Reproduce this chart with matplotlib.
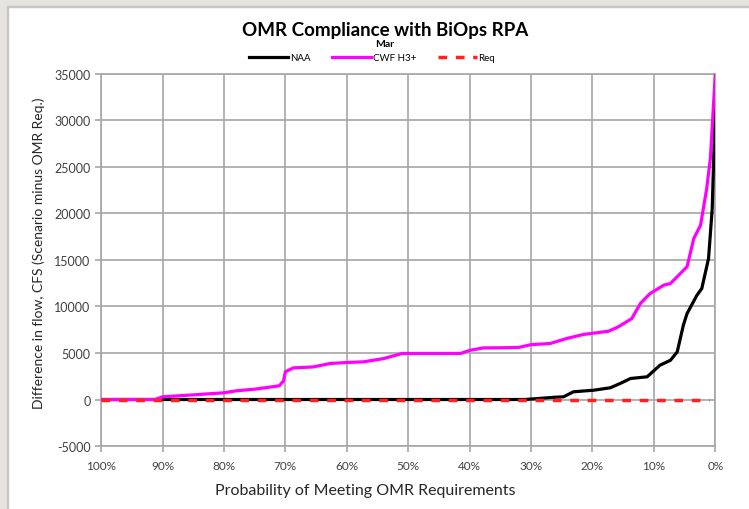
import matplotlib.pyplot as plt
from matplotlib.patches import Rectangle

# data (probability in %, difference in cfs)
naa_prob = [100, 31, 30, 28, 26, 24.7, 23.1, 19.8, 17.1, 15.5, 13.8, 11.1, 9, 7.3,
            6.2, 5.2, 4.6, 3, 2.2, 1.1, 0.5, 0]
naa_flow = [0, 0, 50, 150, 250, 290, 830, 1000, 1260, 1720, 2260, 2440, 3690, 4220,
            5120, 7990, 9240, 11200, 11930, 15160, 20530, 31800]

cwf_prob = [100, 91.2, 90, 85, 80, 78, 75, 71, 70.3, 70, 68.7, 65.5, 62.7, 60, 57.3,
            54, 51, 41.5, 39.9, 37.7, 35, 32, 30, 26.9, 24.2, 21.5, 17.4, 15.8, 13.6,
            12.2, 10.6, 8.4, 7.3, 4.6, 3.5, 2.4, 1.4, 0.8, 0]
cwf_flow = [0, 0, 290, 500, 720, 935, 1110, 1470, 2000, 2980, 3400, 3500, 3870, 3980,
            4050, 4400, 4950, 4950, 5300, 5550, 5560, 5600, 5900, 6020, 6560, 6990,
            7340, 7810, 8700, 10320, 11400, 12290, 12470, 14270, 17310, 18740, 22680,
            25900, 35000]

req_prob = [100, 1]
req_flow = [0, 0]

x_ticks = [100, 90, 80, 70, 60, 50, 40, 30, 20, 10, 0]
y_ticks = [-5000, 0, 5000, 10000, 15000, 20000, 25000, 30000, 35000]

plt.rcParams['font.family'] = ['Lato', 'DejaVu Sans']
plt.rcParams['axes.unicode_minus'] = False

fig = plt.figure(figsize=(7.49, 5.10), dpi=100)
ax = fig.add_axes([0.135, 0.1235, 0.82, 0.7295])

# grey frame of the slide at top and left
fig.patches.append(Rectangle((0, 1 - 7 / 510), 1, 7 / 510, transform=fig.transFigure,
                             color='#e6e4df', zorder=0))
fig.patches.append(Rectangle((0, 0), 7 / 749, 1, transform=fig.transFigure,
                             color='#e6e4df', zorder=0))
fig.patches.append(Rectangle((7 / 749, 0), 1.2 / 749, 1 - 7 / 510, transform=fig.transFigure,
                             color='#c8c6c0', zorder=0))
fig.patches.append(Rectangle((7 / 749, 1 - 8.2 / 510), 1, 1.2 / 510, transform=fig.transFigure,
                             color='#c8c6c0', zorder=0))

ax.plot(naa_prob, naa_flow, color='black', linewidth=2.3, label='NAA', zorder=3)
ax.plot(cwf_prob, cwf_flow, color='#ff00ff', linewidth=2.3, label='CWF H3+', zorder=4)
ax.plot(req_prob, req_flow, color='#ff2020', linewidth=2.5, linestyle=(0, (2.5, 2.5)),
        label='Req', zorder=5)

ax.set_xlim(100, 0)
ax.set_ylim(-5000, 35000)
ax.set_xticks(x_ticks)
ax.set_xticklabels([f'{v}%' for v in x_ticks])
ax.set_yticks(y_ticks)
ax.grid(True, color='#a6a6a6', linewidth=1.2)
ax.set_axisbelow(True)
for side in ['top', 'right', 'left', 'bottom']:
    ax.spines[side].set_color('#a6a6a6')
    ax.spines[side].set_linewidth(1.2)
ax.tick_params(axis='both', colors='#a6a6a6', labelcolor='#404040',
               length=4, width=1.2)
ax.tick_params(axis='y', labelsize=9)
ax.tick_params(axis='x', labelsize=8.5, pad=6)

ax.set_xlabel('Probability of Meeting OMR Requirements', fontsize=11.5, color='#262626')
ax.xaxis.set_label_coords(0.43, -0.1)
ax.set_ylabel('Difference in flow, CFS (Scenario minus OMR Req.)', fontsize=10,
              color='#262626')
ax.yaxis.set_label_coords(-0.092, 0.52)

fig.text(0.514, 0.94, 'OMR Compliance with BiOps RPA', ha='center', va='center',
         fontsize=13.5, fontweight='bold')
fig.text(0.514, 0.912, 'Mar', ha='center', va='center', fontsize=7.5, fontweight='bold')
fig.legend(loc='center', bbox_to_anchor=(0.497, 0.885), ncol=3, frameon=False,
           fontsize=7, handlelength=4, columnspacing=2.2, handletextpad=0.2)

plt.savefig('out.png', dpi=100)
